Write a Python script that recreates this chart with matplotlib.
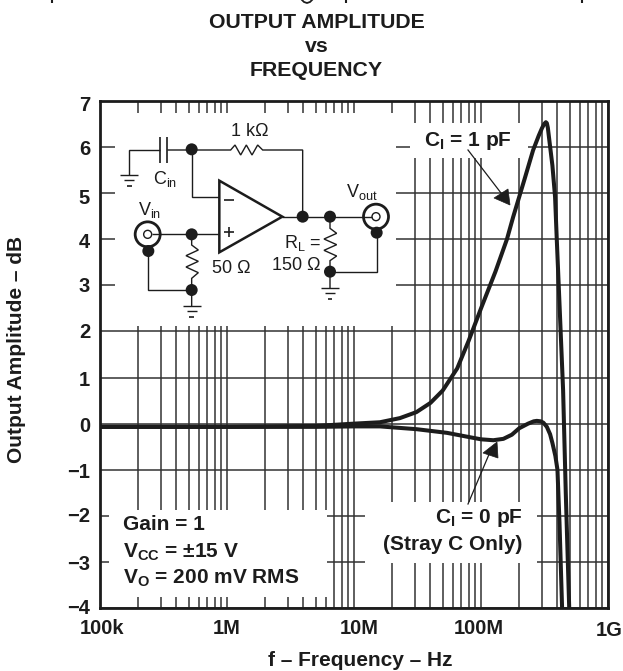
# -------------------------------------------------------------------------------------
# Libraries
import matplotlib
matplotlib.use('Agg')
import matplotlib.pyplot as plt
from matplotlib.patches import Circle, Polygon, Rectangle
from matplotlib.ticker import FixedLocator, NullFormatter
# -------------------------------------------------------------------------------------

# -------------------------------------------------------------------------------------
# Data
freq_c1 = [1e5, 1e6, 5e6, 1e7, 1.6e7, 2.3e7, 3.1e7, 4e7, 5e7, 6.5e7, 8e7, 1e8, 1.3e8, 1.6e8, 1.79e8, 2.2e8,
           2.57e8, 2.85e8, 3.02e8, 3.14e8, 3.24e8, 3.3e8, 3.36e8, 3.49e8, 3.65e8, 3.83e8, 3.95e8, 4.15e8, 4.43e8,
           4.65e8, 4.95e8]
gain_c1 = [-0.07, -0.07, -0.05, 0.0, 0.03, 0.12, 0.25, 0.45, 0.72, 1.2, 1.8, 2.5, 3.3, 4.0, 4.48, 5.3,
           5.93, 6.25, 6.41, 6.5, 6.54, 6.52, 6.42, 6.04, 5.6, 4.92, 4.0, 2.6, 0.73, -1.5, -4.0]

freq_c0 = [1e5, 1e6, 5e6, 1e7, 1.6e7, 3.1e7, 5.4e7, 8e7, 1e8, 1.25e8, 1.5e8, 1.75e8, 2e8, 2.35e8, 2.6e8, 2.75e8,
           2.95e8, 3.1e8, 3.3e8, 3.5e8, 3.65e8, 3.85e8, 4e8, 4.15e8, 4.35e8]
gain_c0 = [-0.07, -0.07, -0.07, -0.06, -0.06, -0.12, -0.2, -0.29, -0.34, -0.36, -0.33, -0.24, -0.1, 0.0, 0.05, 0.06,
           0.05, 0.02, -0.07, -0.23, -0.42, -0.7, -1.0, -2.15, -4.0]

x_ticks = [1e5, 1e6, 1e7, 1e8, 1e9]
x_labels = ['100k', '1M', '10M', '100M', '1G']
y_ticks = [-4, -3, -2, -1, 0, 1, 2, 3, 4, 5, 6, 7]
y_labels = ['\u22124', '\u22123', '\u22122', '\u22121', '0', '1', '2', '3', '4', '5', '6', '7']
# -------------------------------------------------------------------------------------

plt.rcParams['font.family'] = ['Liberation Sans', 'DejaVu Sans']
plt.rcParams['mathtext.fontset'] = 'custom'
plt.rcParams['mathtext.rm'] = 'Liberation Sans'
plt.rcParams['mathtext.bf'] = 'Liberation Sans:bold'
plt.rcParams['mathtext.it'] = 'Liberation Sans'

ink = '#1c1c1c'
grid_ink = '#333333'
fig_w, fig_h = 623, 671
fig = plt.figure(figsize=(fig_w / 100, fig_h / 100), dpi=100)

# main chart
left, right, top, bottom = 100, 608, 101, 608
ax = fig.add_axes([left / fig_w, 1 - bottom / fig_h, (right - left) / fig_w, (bottom - top) / fig_h])
ax.set_xscale('log')
ax.set_xlim(1e5, 1e9)
ax.set_ylim(-4, 7)
ax.set_yticks(y_ticks)
ax.set_yticklabels([])
ax.set_xticks(x_ticks)
ax.set_xticklabels([])
minor = [m * 10 ** e for e in range(5, 9) for m in range(2, 10)]
ax.xaxis.set_minor_locator(FixedLocator(minor))
ax.xaxis.set_minor_formatter(NullFormatter())
ax.tick_params(which='both', length=0)
ax.grid(True, which='both', color=grid_ink, linewidth=1.1)
ax.set_axisbelow(True)
for spine in ax.spines.values():
    spine.set_linewidth(2.0)
    spine.set_color(ink)
ax.plot(freq_c1, gain_c1, color=ink, linewidth=2.9, solid_joinstyle='round', zorder=4)
ax.plot(freq_c0, gain_c0, color=ink, linewidth=2.9, solid_joinstyle='round', zorder=4)

# overlay in image pixels, for the masks, the schematic and the notes
ov = fig.add_axes([0, 0, 1, 1], zorder=5)
ov.set_xlim(0, fig_w)
ov.set_ylim(fig_h, 0)
ov.axis('off')

for x0, y0, x1, y1 in [(115, 113, 396, 326), (109, 510, 327, 597), (410, 123, 528, 158), (365, 502, 537, 563)]:
    ov.add_patch(Rectangle((x0, y0), x1 - x0, y1 - y0, facecolor='white', edgecolor='none'))


def bold(x, y, s, size=15, ha='center', va='center', **kwargs):
    ov.text(x, y, s, fontsize=size, fontweight='bold', ha=ha, va=va, color=ink, **kwargs)


def thin(x, y, s, size=13, ha='center', va='center'):
    ov.text(x, y, s, fontsize=size, ha=ha, va=va, color=ink)


# tick labels sit a little off the grid in the scan
for s, y_label in zip(y_labels, [608, 565, 517, 473, 426, 380, 332, 286, 242, 198, 149.5, 105.5]):
    bold(90, y_label, s, 14.5, ha='right')
for s, x_label, y_label in zip(x_labels, [102, 227, 359, 479, 609], [628, 628, 628, 628, 631]):
    bold(x_label, y_label, s, 14.5)

bold(316.5, 22, 'OUTPUT AMPLITUDE', 15.3)
bold(316.5, 47, 'vs', 15.3)
bold(316.5, 70, 'FREQUENCY', 15.3)
bold(360, 661, 'f \u2013 Frequency \u2013 Hz')
bold(17, 349, 'Output Amplitude \u2013 dB', rotation=90)

bold(468, 141, r'$\mathbf{C_I}$ = 1 pF')
bold(479, 518, r'$\mathbf{C_I}$ = 0 pF')
bold(452.5, 545, '(Stray C Only)')
bold(123, 525, 'Gain = 1', ha='left')
bold(123, 552, r'$\mathbf{V_{CC}}$ = ' + '\u00b115 V', ha='left')
bold(123, 578, r'$\mathbf{V_O}$ = 200 mV RMS', ha='left')

# descenders of the line cut off at the top of the page
for x_cut in [52, 346, 582]:
    ov.plot([x_cut, x_cut], [0, 3], color=ink, linewidth=1.5, solid_capstyle='butt')
ov.plot([302, 304, 307, 310, 312], [0, 2, 3, 2, 0], color=ink, linewidth=1.3)

# arrows of the two notes
ov.plot([468, 501], [150, 193], color=ink, linewidth=0.9)
ov.add_patch(Polygon([(508, 189), (494, 198), (510, 205)], facecolor=ink, edgecolor=ink, linewidth=0.5))
ov.plot([468, 490], [504, 452], color=ink, linewidth=0.9)
ov.add_patch(Polygon([(497, 442), (483, 453), (498, 458)], facecolor=ink, edgecolor=ink, linewidth=0.5))


# schematic, points (3x, origin at 90,90)
def zx(v):
    return 90 + v / 3


def wire(points, lw=1.0, zorder=2):
    ov.plot([zx(p[0]) for p in points], [zx(p[1]) for p in points], color=ink, linewidth=lw,
            solid_joinstyle='miter', solid_capstyle='butt', zorder=zorder)


def dot(x, y):
    ov.add_patch(Circle((zx(x), zx(y)), 6, facecolor=ink, edgecolor='none', zorder=6))


def ground(x, y):
    wire([(x - 27, y), (x + 27, y)])
    wire([(x - 15, y + 15), (x + 15, y + 15)])
    wire([(x - 7, y + 32), (x + 7, y + 32)], lw=1.2)


def bnc(x, y):
    ov.add_patch(Circle((zx(x), zx(y)), 12.5, facecolor='white', edgecolor=ink, linewidth=2.0, zorder=5))
    ov.add_patch(Circle((zx(x), zx(y)), 4, facecolor='white', edgecolor=ink, linewidth=1.0, zorder=6))


wire([(118, 255), (118, 180), (210, 180)])
wire([(210, 140), (210, 218)], lw=1.2)
wire([(232, 140), (232, 218)], lw=1.2)
wire([(232, 180), (422, 180), (435, 165), (452, 195), (469, 165), (486, 195), (503, 165), (518, 180),
      (638, 180), (638, 380)])
wire([(305, 180), (305, 322), (388, 322)])
wire([(305, 433), (305, 465), (325, 480), (288, 497), (325, 514), (288, 531), (325, 548), (305, 565), (305, 648)])
wire([(175, 483), (175, 600), (305, 600)])
wire([(185, 433), (388, 433)])
wire([(577, 380), (835, 380)])
wire([(720, 380), (720, 415), (740, 430), (702, 447), (740, 464), (702, 481), (740, 498), (720, 512), (720, 595)])
wire([(720, 545), (860, 545), (860, 428)])
ground(118, 255)
ground(305, 648)
ground(720, 595)
ov.add_patch(Polygon([(zx(388), zx(272)), (zx(388), zx(487)), (zx(577), zx(380))], closed=True, facecolor='white',
                     edgecolor=ink, linewidth=1.8, zorder=4))
wire([(403, 331), (432, 331)], lw=1.2, zorder=5)
wire([(403, 426), (432, 426)], lw=1.2, zorder=5)
wire([(417.5, 411), (417.5, 441)], lw=1.2, zorder=5)
bnc(173, 433)
bnc(858, 380)
wire([(185, 433), (212, 433)], zorder=6)
wire([(820, 380), (846, 380)], zorder=6)
for x_dot, y_dot in [(305, 178), (305, 433), (305, 600), (175, 483), (638, 380), (720, 380), (720, 545), (860, 428)]:
    dot(x_dot, y_dot)

thin(zx(478), zx(125), '1 k\u03a9')
thin(zx(225), zx(268), r'C$_{\mathrm{in}}$')
thin(zx(180), zx(360), r'V$_{\mathrm{in}}$')
thin(zx(815), zx(305), r'V$_{\mathrm{out}}$')
thin(zx(637), zx(460), r'R$_{\mathrm{L}}$ =')
thin(zx(620), zx(527), '150 \u03a9')
thin(zx(425), zx(535), '50 \u03a9')

fig.savefig('out.png', dpi=100)
